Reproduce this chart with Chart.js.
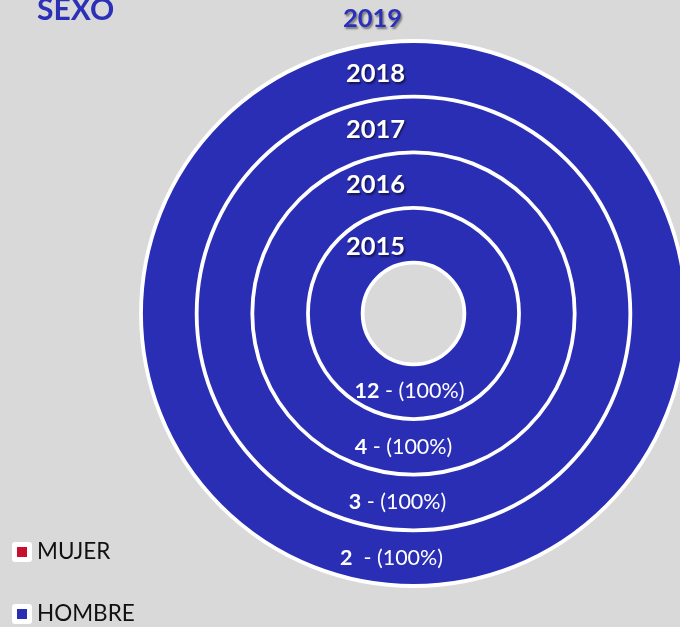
<!DOCTYPE html>
<html>
<head>
<meta charset="utf-8">
<script src="https://cdn.jsdelivr.net/npm/chart.js@4.4.0/dist/chart.umd.min.js"></script>
<style>
  html, body { margin:0; padding:0; width:680px; height:627px; overflow:hidden; background:#D9D9D9; font-family: Lato, "Open Sans", sans-serif; }
  #wrap { position:absolute; left:0; top:0; width:687px; height:627px; }
  #title { position:absolute; left:37px; top:-7px; font-size:30px; line-height:30px; font-weight:bold; color:#2B30B6; }
  .leg { position:absolute; left:12px; font-size:22.5px; line-height:22px; color:#111; }
  .leg .box { position:absolute; left:0; width:20px; height:20px; background:#fff; border-radius:3px; }
  .leg .box i { position:absolute; left:5px; top:5px; width:10px; height:10px; }
  .leg span { position:absolute; left:25px; white-space:nowrap; }
</style>
</head>
<body>
<div id="wrap"><canvas id="c" width="687" height="627"></canvas></div>
<div id="title">SEXO</div>
<div class="leg" id="leg0" style="top:542px"><div class="box"><i></i></div><span style="top:-2px"></span></div>
<div class="leg" id="leg1" style="top:604px"><div class="box"><i></i></div><span style="top:-2px"></span></div>
<script>
// ---- data ----
const categories = ['MUJER', 'HOMBRE'];
const years = ['2015', '2016', '2017', '2018', '2019'];
const mujer = [0, 0, 0, 0, 0];
const hombre = [12, 4, 3, 2, 0];
const colors = ['#C8102E', '#2A2EB5'];

// legend
categories.forEach((c, i) => {
  const el = document.getElementById('leg' + i);
  el.querySelector('i').style.background = colors[i];
  el.querySelector('span').textContent = c;
});

// rings: years with data; Chart.js puts dataset 0 outermost
const ringYears = [];
years.forEach((y, i) => { if (mujer[i] + hombre[i] > 0) ringYears.push(i); });
ringYears.reverse();
const datasets = ringYears.map(i => ({
  label: years[i],
  data: [mujer[i], hombre[i]],
  backgroundColor: colors,
  borderWidth: 0
}));
const emptyYears = years.filter((y, i) => mujer[i] + hombre[i] === 0);

const ringPlugin = {
  id: 'rings',
  afterDatasetsDraw(chart) {
    const ctx = chart.ctx;
    const metas = chart.data.datasets.map((d, i) => chart.getDatasetMeta(i));
    ctx.save();
    ctx.strokeStyle = '#FFFFFF';
    ctx.lineWidth = 3.8;
    let cx, cy, innerMost;
    metas.forEach(m => {
      const a = m.data[0].getProps(['x', 'y', 'innerRadius', 'outerRadius'], true);
      cx = a.x; cy = a.y; innerMost = a.innerRadius;
      ctx.beginPath(); ctx.arc(a.x, a.y, a.outerRadius - 1, 0, Math.PI * 2); ctx.stroke();
    });
    ctx.beginPath(); ctx.arc(cx, cy, innerMost, 0, Math.PI * 2); ctx.stroke();
    ctx.restore();

    const n = metas.length;
    metas.forEach((m, di) => {
      const a = m.data[0].getProps(['x', 'y', 'innerRadius', 'outerRadius'], true);
      const mid = (a.innerRadius + a.outerRadius) / 2;
      const ringFromInside = n - 1 - di;
      const ds = chart.data.datasets[di];
      // year label at top of ring
      ctx.save();
      ctx.font = 'bold 25.5px Lato';
      ctx.textAlign = 'center';
      ctx.textBaseline = 'middle';
      ctx.shadowColor = 'rgba(0,0,0,0.55)';
      ctx.shadowOffsetX = 1.5; ctx.shadowOffsetY = 1.5; ctx.shadowBlur = 2;
      ctx.fillStyle = '#FFFFFF';
      ctx.fillText(ds.label, a.x - 38, a.y - mid + 6 + (ringFromInside === 0 ? 6 : 0));
      ctx.restore();
      // value label at bottom of ring
      const total = ds.data.reduce((s, v) => s + v, 0);
      const val = ds.data[1];
      const pct = Math.round(val / total * 100);
      const p1 = String(val);
      const p2 = (ringFromInside === n - 1 ? '  - ' : ' - ') + '(' + pct + '%)';
      ctx.save();
      ctx.textBaseline = 'middle';
      ctx.fillStyle = '#FFFFFF';
      ctx.font = 'bold 21.5px Lato';
      const w1 = ctx.measureText(p1).width;
      ctx.font = '21.5px Lato';
      const w2 = ctx.measureText(p2).width;
      const xc = a.x - 4 - 6 * ringFromInside;
      const y = a.y + mid - 1;
      const x0 = xc - (w1 + w2) / 2;
      ctx.font = 'bold 21.5px Lato';
      ctx.textAlign = 'left';
      ctx.fillText(p1, x0, y);
      ctx.font = '21.5px Lato';
      ctx.fillText(p2, x0 + w1, y);
      ctx.restore();
      // years without data: label above the outer ring
      if (di === 0) {
        ctx.save();
        ctx.font = 'bold 25.5px Lato';
        ctx.textAlign = 'center';
        ctx.textBaseline = 'middle';
        ctx.shadowColor = 'rgba(0,0,0,0.45)';
        ctx.shadowOffsetX = 1.5; ctx.shadowOffsetY = 1.5; ctx.shadowBlur = 2;
        ctx.fillStyle = '#2B30B6';
        emptyYears.forEach(t => ctx.fillText(t, a.x - 41, a.y - a.outerRadius - 21));
        ctx.restore();
      }
    });
  }
};

new Chart(document.getElementById('c'), {
  type: 'doughnut',
  data: { labels: categories, datasets },
  options: {
    responsive: false,
    animation: false,
    cutout: '18.6%',
    layout: { padding: { left: 140, top: 40, right: 0, bottom: 40 } },
    plugins: { legend: { display: false }, tooltip: { enabled: false }, title: { display: false } }
  },
  plugins: [ringPlugin]
});
</script>
</body>
</html>
